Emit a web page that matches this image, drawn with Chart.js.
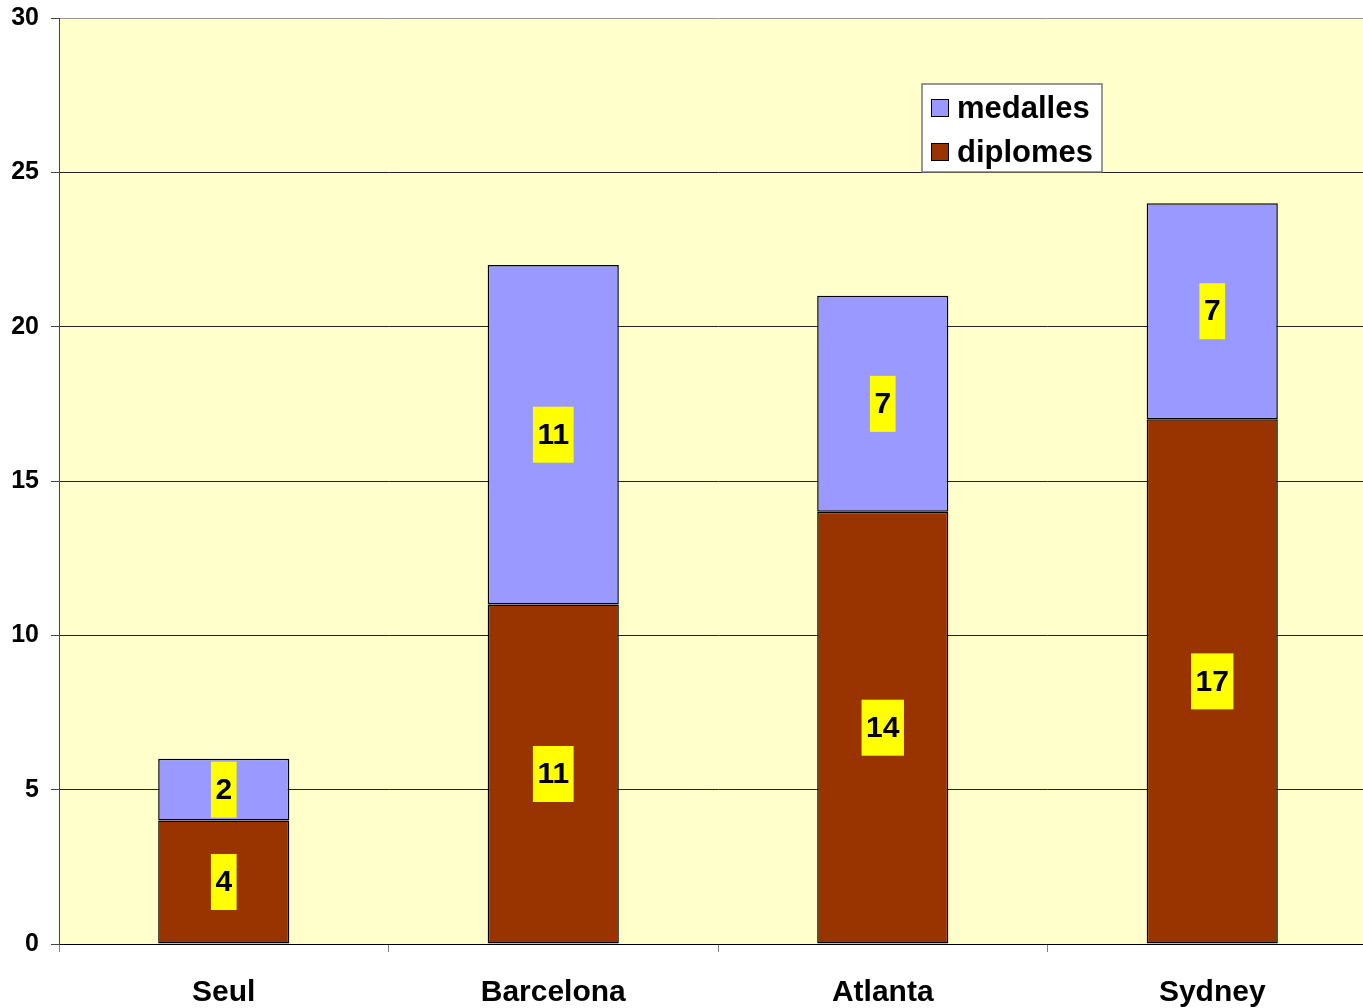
<!DOCTYPE html>
<html>
<head>
<meta charset="utf-8">
<script src="https://cdn.jsdelivr.net/npm/chart.js@4.4.0/dist/chart.umd.min.js"></script>
<style>
  html, body { margin: 0; padding: 0; background: #fff; overflow: hidden; }
  #wrap { width: 1377px; height: 1008px; }
</style>
</head>
<body>
<div id="wrap"><canvas id="medalsChart"></canvas></div>
<script>
const cities = ['Seul', 'Barcelona', 'Atlanta', 'Sydney'];
const diplomes = [4, 11, 14, 17];
const medalles = [2, 11, 7, 7];
const yTicks = [0, 5, 10, 15, 20, 25, 30];

const FONT = 'Arial, "Liberation Sans", sans-serif';

// fondo amarillo del área del gráfico
const plotBackground = {
  id: 'plotBackground',
  beforeDraw(chart) {
    const { ctx, chartArea } = chart;
    ctx.save();
    ctx.fillStyle = '#FFFFCC';
    ctx.fillRect(chartArea.left, chartArea.top, chartArea.right - chartArea.left, chartArea.bottom - chartArea.top);
    ctx.restore();
  },
};

// etiquetas de valor en cajas amarillas
const valueLabels = {
  id: 'valueLabels',
  afterDatasetsDraw(chart) {
    const { ctx } = chart;
    ctx.save();
    ctx.font = 'bold 30px ' + FONT;
    ctx.textAlign = 'center';
    ctx.textBaseline = 'middle';
    chart.data.datasets.forEach((ds, i) => {
      chart.getDatasetMeta(i).data.forEach((bar, j) => {
        const text = String(ds.data[j]);
        const cy = (bar.y + bar.base) / 2;
        const w = ctx.measureText(text).width + 9;
        const h = 56;
        ctx.fillStyle = '#FFFF00';
        ctx.fillRect(bar.x - w / 2, cy - h / 2, w, h);
        ctx.fillStyle = '#000';
        ctx.fillText(text, bar.x, cy + 1);
      });
    });
    ctx.restore();
  },
};

// leyenda dentro del área, arriba a la derecha
const boxLegend = {
  id: 'boxLegend',
  afterDraw(chart) {
    const { ctx } = chart;
    const x = 922, y = 84, w = 180, h = 88;
    ctx.save();
    ctx.fillStyle = '#fff';
    ctx.fillRect(x, y, w, h);
    ctx.strokeStyle = '#777';
    ctx.lineWidth = 1.5;
    ctx.strokeRect(x, y, w, h);
    const items = [
      { label: 'medalles', color: '#9999FF', cy: 108 },
      { label: 'diplomes', color: '#993300', cy: 152 },
    ];
    ctx.font = 'bold 31px ' + FONT;
    ctx.textBaseline = 'middle';
    ctx.textAlign = 'left';
    items.forEach((it) => {
      ctx.fillStyle = it.color;
      ctx.fillRect(931, it.cy - 9, 18, 18);
      ctx.strokeStyle = '#000';
      ctx.lineWidth = 1;
      ctx.strokeRect(931.5, it.cy - 8.5, 17, 17);
      ctx.fillStyle = '#000';
      ctx.fillText(it.label, 957, it.cy + 1);
    });
    ctx.restore();
  },
};

const ctx = document.getElementById('medalsChart').getContext('2d');

new Chart(ctx, {
  type: 'bar',
  data: {
    labels: cities,
    datasets: [
      {
        label: 'diplomes',
        data: diplomes,
        backgroundColor: '#993300',
        borderColor: '#000',
        borderWidth: 1.5,
        borderSkipped: false,
      },
      {
        label: 'medalles',
        data: medalles,
        backgroundColor: '#9999FF',
        borderColor: '#000',
        borderWidth: 1.5,
        borderSkipped: false,
      },
    ],
  },
  options: {
    responsive: true,
    maintainAspectRatio: false,
    animation: false,
    events: [],
    layout: {
      padding: { top: 18, left: 0, right: 0, bottom: 0 },
    },
    datasets: {
      bar: {
        categoryPercentage: 1,
        barPercentage: 0.398,
      },
    },
    plugins: {
      legend: { display: false },
      tooltip: { enabled: false },
    },
    scales: {
      x: {
        stacked: true,
        offset: true,
        grid: {
          offset: true,
          drawOnChartArea: false,
          drawTicks: true,
          tickLength: 8,
          color: '#808080',
        },
        border: { color: '#000', width: 1 },
        ticks: {
          color: '#000',
          padding: 23,
          font: { family: FONT, size: 30, weight: 'bold' },
        },
        afterFit: (scale) => {
          scale.height = 64;
          scale.paddingLeft = 0;
          scale.paddingRight = 0;
        },
      },
      y: {
        stacked: true,
        min: 0,
        max: 30,
        afterBuildTicks: (scale) => {
          scale.ticks = yTicks.map((v) => ({ value: v }));
        },
        grid: {
          color: (c) => (c.tick && c.tick.value === 30 ? '#999' : '#222'),
          tickColor: '#444',
          tickLength: 8,
          lineWidth: 1,
        },
        border: { color: '#444', width: 1 },
        ticks: {
          color: '#000',
          padding: 12,
          font: { family: FONT, size: 25, weight: 'bold' },
        },
        afterFit: (scale) => {
          scale.width = 59;
          scale.paddingTop = 0;
          scale.paddingBottom = 0;
        },
      },
    },
  },
  plugins: [plotBackground, valueLabels, boxLegend],
});
</script>
</body>
</html>
